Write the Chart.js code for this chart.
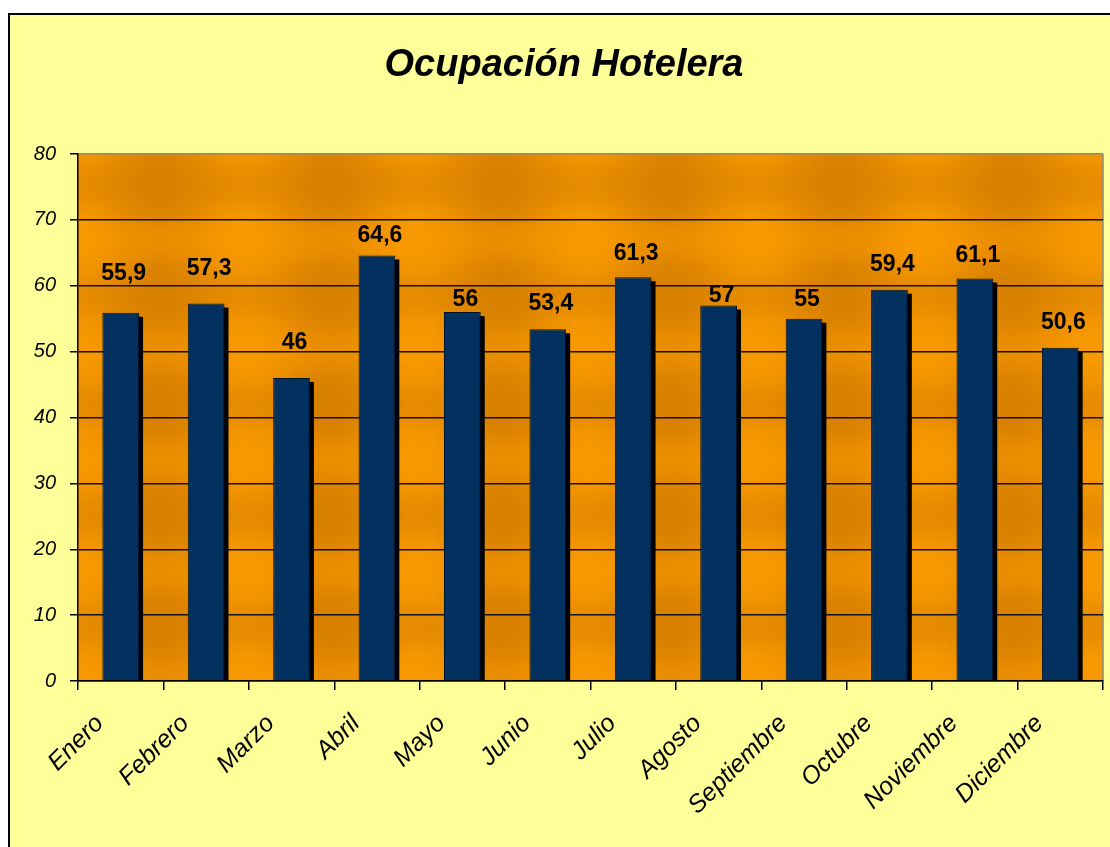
<!DOCTYPE html>
<html><head><meta charset="utf-8">
<script src="https://cdn.jsdelivr.net/npm/chart.js@4.4.1/dist/chart.umd.min.js"></script>
<style>
html,body{margin:0;padding:0;background:#fff;width:1110px;height:847px;overflow:hidden}
#frame{position:absolute;left:8px;top:13px;width:1120px;height:860px;border-left:2px solid #000;border-top:2px solid #000;background:#FFFF99}
#wrap{position:absolute;left:0;top:0;width:1110px;height:847px}
</style></head><body>
<div id="frame"></div>
<div id="wrap"><canvas id="c" width="1110" height="847"></canvas></div>
<script>
const chartTitle = 'Ocupación Hotelera';
const months = ['Enero','Febrero','Marzo','Abril','Mayo','Junio','Julio','Agosto','Septiembre','Octubre','Noviembre','Diciembre'];
const occupancy = [55.9, 57.3, 46, 64.6, 56, 53.4, 61.3, 57, 55, 59.4, 61.1, 50.6];
const yMin = 0, yMax = 80, yStep = 10;

// style: distance (px) from bar top to the centre of each value label
const labelLift = [39, 34.5, 35, 19.5, 12, 25.5, 24, 9.5, 19, 25, 23, 25];

const fmt = v => String(v).replace('.', ',');

const plotBg = {
  id: 'plotBg',
  beforeDraw(chart) {
    const { ctx, chartArea: a } = chart;
    ctx.save();
    ctx.fillStyle = '#E88C00';
    ctx.fillRect(a.left, a.top, a.width, a.height);
    const perV = 170, phaseV = 75;
    const gv = ctx.createLinearGradient(a.left, 0, a.right, 0);
    for (let px = 0; px <= a.width; px += 5) {
      const s = Math.cos(2 * Math.PI * (a.left + px - phaseV) / perV);
      const c = s > 0 ? 'rgba(255,160,0,' + (0.5 * s).toFixed(3) + ')' : 'rgba(208,122,0,' + (-0.5 * s).toFixed(3) + ')';
      gv.addColorStop(px / a.width, c);
    }
    ctx.fillStyle = gv;
    ctx.fillRect(a.left, a.top, a.width, a.height);
    const perH = 110, phaseH = 240;
    const gh = ctx.createLinearGradient(0, a.top, 0, a.bottom);
    for (let py = 0; py <= a.height; py += 5) {
      const s = Math.cos(2 * Math.PI * (a.top + py - phaseH) / perH);
      const c = s > 0 ? 'rgba(255,158,0,' + (0.4 * s).toFixed(3) + ')' : 'rgba(210,124,0,' + (-0.4 * s).toFixed(3) + ')';
      gh.addColorStop(py / a.height, c);
    }
    ctx.fillStyle = gh;
    ctx.fillRect(a.left, a.top, a.width, a.height);
    ctx.strokeStyle = '#8a8a8a';
    ctx.lineWidth = 1.5;
    ctx.beginPath();
    ctx.moveTo(a.right, a.top);
    ctx.lineTo(a.right, a.bottom);
    ctx.stroke();
    ctx.restore();
  }
};

const barShadow = {
  id: 'barShadow',
  beforeDatasetsDraw(chart) {
    const { ctx, chartArea: a } = chart;
    const meta = chart.getDatasetMeta(0);
    ctx.save();
    ctx.beginPath();
    ctx.rect(a.left, a.top, a.width, a.height);
    ctx.clip();
    ctx.fillStyle = '#000';
    meta.data.forEach(el => {
      const { x, y, base, width } = el.getProps(['x', 'y', 'base', 'width'], true);
      ctx.fillRect(x - width / 2 + 4, y + 4, width, base - y - 4);
    });
    ctx.restore();
  }
};

const valueLabels = {
  id: 'valueLabels',
  afterDatasetsDraw(chart) {
    const { ctx } = chart;
    const meta = chart.getDatasetMeta(0);
    ctx.save();
    ctx.font = 'bold 23px Arial, "Liberation Sans", sans-serif';
    ctx.fillStyle = '#000';
    ctx.textAlign = 'center';
    ctx.textBaseline = 'middle';
    meta.data.forEach((el, i) => {
      const { x, y } = el.getProps(['x', 'y'], true);
      ctx.fillText(fmt(occupancy[i]), x + 3, y - labelLift[i]);
    });
    ctx.restore();
  }
};

const titlePlugin = {
  id: 'titleText',
  afterDraw(chart) {
    const { ctx } = chart;
    ctx.save();
    ctx.font = 'italic bold 38px Arial, "Liberation Sans", sans-serif';
    ctx.fillStyle = '#000';
    ctx.textAlign = 'center';
    ctx.textBaseline = 'middle';
    ctx.fillText(chartTitle, 564, 66);
    ctx.restore();
  }
};

new Chart(document.getElementById('c'), {
  type: 'bar',
  data: {
    labels: months,
    datasets: [{
      label: chartTitle,
      data: occupancy,
      backgroundColor: '#02305F',
      borderColor: '#00142E',
      borderWidth: 1,
      barPercentage: 0.43,
      categoryPercentage: 1
    }]
  },
  options: {
    responsive: false,
    devicePixelRatio: 1,
    animation: false,
    layout: { padding: { top: 154, right: 7, left: 0, bottom: 0 } },
    plugins: { legend: { display: false }, tooltip: { enabled: false }, title: { display: false } },
    scales: {
      x: {
        afterFit(s) { s.height = 166; },
        grid: { drawOnChartArea: false, drawTicks: true, tickLength: 9, color: '#000', lineWidth: 1.5, offset: true },
        border: { display: true, color: '#000', width: 1.5 },
        ticks: {
          autoSkip: false, maxRotation: 45, minRotation: 45, padding: 19, labelOffset: -21,
          color: '#000', font: { family: 'Arial, "Liberation Sans", sans-serif', size: 25, style: 'italic' }
        }
      },
      y: {
        min: yMin, max: yMax,
        afterFit(s) { s.width = 78; },
        grid: {
          color: c => (c.tick && c.tick.value === yMax) ? '#8a8a8a' : '#111',
          tickColor: '#000', lineWidth: 1.5, tickLength: 8
        },
        border: { display: true, color: '#000', width: 1.5 },
        ticks: {
          stepSize: yStep, padding: 14, color: '#000',
          font: { family: 'Arial, "Liberation Sans", sans-serif', size: 20, style: 'italic' }
        }
      }
    }
  },
  plugins: [plotBg, barShadow, valueLabels, titlePlugin]
});
</script>
</body></html>
